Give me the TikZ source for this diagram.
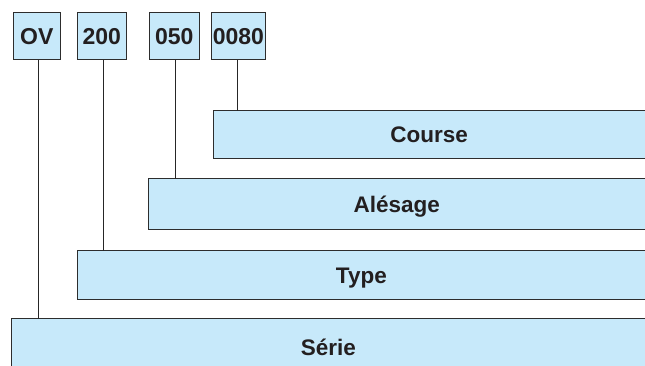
\documentclass[tikz,border=0pt]{standalone}
\usepackage{fontspec}
\setmainfont{Liberation Sans}
\definecolor{boxfill}{RGB}{199,233,250}
\definecolor{edge}{RGB}{45,45,45}
\definecolor{txt}{RGB}{35,31,32}
\begin{document}
\begin{tikzpicture}[x=1pt,y=-1pt,
  codebox/.style={draw=edge,line width=0.9pt,fill=boxfill,inner sep=0pt,
    minimum height=47.6pt,anchor=north west,text=txt,text height=16.5pt,text depth=0pt,
    font=\fontsize{23}{23}\selectfont\bfseries},
  bigbox/.style={fill=boxfill,inner sep=0pt,anchor=north west,text=txt,
    text height=16.5pt,text depth=0pt,
    font=\fontsize{22.5}{22.5}\selectfont\bfseries},
  border/.style={draw=edge,line width=0.9pt},
  link/.style={draw=black!85,line width=0.8pt}]
\useasboundingbox (0,0) rectangle (645,365);
% code boxes
\node[codebox,minimum width=47.3pt] (ov)   at (12.7,11.7) {OV};
\node[codebox,minimum width=48.7pt] (t200) at (77,11.7) {200};
\node[codebox,minimum width=49.7pt] (t050) at (149,11.7) {050};
\node[codebox,minimum width=54pt]   (t0080) at (211,11.7) {0080};
% big boxes
\node[bigbox,minimum width=432pt,minimum height=47pt]   (course) at (213,110.7) {Course};
\node[bigbox,minimum width=497pt,minimum height=50.3pt] (ales)   at (148,178.7) {Alésage};
\node[bigbox,minimum width=567.6pt,minimum height=48pt] (type)   at (77.4,250.7) {Type};
\node[bigbox,minimum width=633.5pt,minimum height=56pt] (serie)  at (11.5,318.7) {Série};
\foreach \b in {course,ales,type,serie}
  \draw[border] (\b.north east) -- (\b.north west) -- (\b.south west) -- (\b.south east);
% connectors
\draw[link] ([xshift=1.4pt]ov.south) -- ([xshift=1.4pt]ov.south |- serie.north);
\draw[link] ([xshift=2pt]t200.south) -- ([xshift=2pt]t200.south |- type.north);
\draw[link] ([xshift=1pt]t050.south) -- ([xshift=1pt]t050.south |- ales.north);
\draw[link] ([xshift=-0.8pt]t0080.south) -- ([xshift=-0.8pt]t0080.south |- course.north);
\end{tikzpicture}
\end{document}
